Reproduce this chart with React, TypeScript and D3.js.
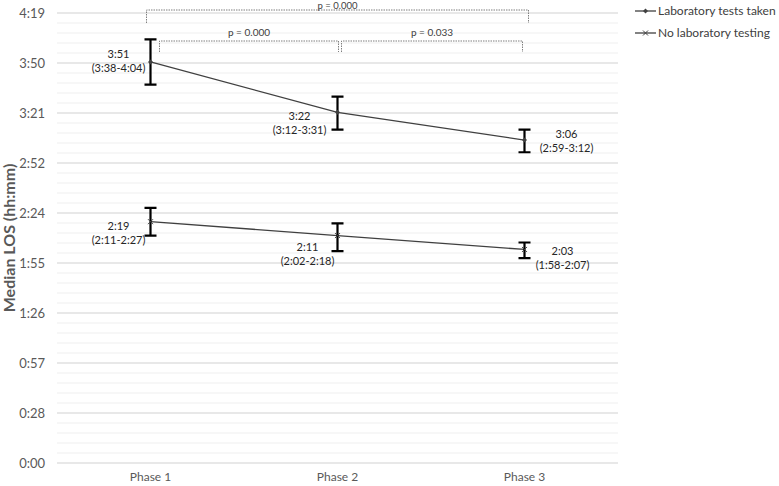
import * as d3 from 'd3';
import React from 'react';

// values in minutes
const phases = ['Phase 1', 'Phase 2', 'Phase 3'];
const labTaken = [231, 202, 186];
const labTakenLow = [218, 192, 179];
const labTakenHigh = [244, 211, 192];
const noLab = [139, 131, 123];
const noLabLow = [131, 122, 118];
const noLabHigh = [147, 138, 127];

// Excel day-fraction ticks
const yTickDays = [0, 0.02, 0.04, 0.06, 0.08, 0.1, 0.12, 0.14, 0.16, 0.18];
const yTickLabels = ['0:00', '0:28', '0:57', '1:26', '1:55', '2:24', '2:52', '3:21', '3:50', '4:19'];

const pTests = [
  { from: 0, to: 2, label: 'p = 0.000', level: 0 },
  { from: 0, to: 1, label: 'p = 0.000', level: 1 },
  { from: 1, to: 2, label: 'p = 0.033', level: 1 },
];

const W = 779;
const H = 486;
const M = { left: 57, right: 161, top: 13, bottom: 23 };
const FONT = 'Lato, "Noto Sans", sans-serif';

const fmt = (m: number) => `${Math.floor(m / 60)}:${String(Math.round(m % 60)).padStart(2, '0')}`;

export default function App() {
  const x = d3.scaleBand().domain(phases).range([M.left, W - M.right]);
  const y = d3.scaleLinear().domain([0, 0.18 * 1440]).range([H - M.bottom, M.top]);
  const cx = (i: number) => x(phases[i])! + x.bandwidth() / 2;

  const minor = d3.range(0, 0.18 * 1440 + 0.01, 0.004 * 1440);
  const line = d3.line<number>().x((_, i) => cx(i)).y(d => y(d));

  const series = [
    { name: 'Laboratory tests taken', vals: labTaken, lo: labTakenLow, hi: labTakenHigh, marker: 'diamond',
      offs: [[-32, -4], [-38, 8], [42, -2]] },
    { name: 'No laboratory testing', vals: noLab, lo: noLabLow, hi: noLabHigh, marker: 'x',
      offs: [[-32, 8], [-30, 15], [38, 6]] },
  ];

  const marker = (kind: string, px: number, py: number) =>
    kind === 'diamond' ? (
      <path d={`M${px},${py - 2.5}L${px + 2.5},${py}L${px},${py + 2.5}L${px - 2.5},${py}Z`} fill="#404040" />
    ) : (
      <path d={`M${px - 2.5},${py - 2.5}L${px + 2.5},${py + 2.5}M${px - 2.5},${py + 2.5}L${px + 2.5},${py - 2.5}`}
        stroke="#404040" strokeWidth={1} />
    );

  return (
    <svg width={W} height={H} style={{ position: 'absolute', left: 0, top: 0, background: '#fff' }} fontFamily={FONT}>
      {/* gridlines */}
      {minor.map((m, i) => (
        <line key={'mn' + i} x1={M.left} x2={W - M.right} y1={y(m)} y2={y(m)} stroke="#efefef" />
      ))}
      {yTickDays.map((d, i) => (
        <line key={'mj' + i} x1={M.left} x2={W - M.right} y1={y(d * 1440)} y2={y(d * 1440)} stroke="#d9d9d9" />
      ))}
      {yTickDays.map((d, i) => (
        <text key={'yl' + i} x={45} y={y(d * 1440)} dy="0.35em" textAnchor="end" fontSize={13} fill="#595959">
          {yTickLabels[i]}
        </text>
      ))}
      <text transform={`translate(15,${(M.top + H - M.bottom) / 2}) rotate(-90)`} textAnchor="middle"
        fontSize={16} fontWeight="bold" fill="#595959">Median LOS (hh:mm)</text>
      {phases.map((p, i) => (
        <text key={p} x={cx(i)} y={481} textAnchor="middle" fontSize={12} fill="#595959">{p}</text>
      ))}

      {/* p-value brackets */}
      {pTests.map((t, i) => {
        const yb = t.level === 0 ? 10 : 41;
        const drop = t.level === 0 ? 13 : 11;
        const x1 = t.level === 0 ? cx(t.from) - 4 : t.from === 1 ? cx(t.from) + 4 : cx(t.from) + 9;
        const x2 = t.level === 0 ? cx(t.to) + 4 : t.to === 1 ? cx(t.to) + 1 : cx(t.to) - 2;
        return (
          <g key={'pt' + i}>
            <path d={`M${x1},${yb + drop}V${yb}H${x2}V${yb + drop}`} fill="none" stroke="#7f7f7f"
              strokeWidth={1} strokeDasharray="1.5,1" />
            <text x={(x1 + x2) / 2} y={t.level === 0 ? 8.5 : yb - 5} textAnchor="middle"
              fontSize={t.level === 0 ? 9.5 : 10} fill="#404040">
              {t.label}
            </text>
          </g>
        );
      })}

      {series.map((s, si) => (
        <g key={s.name}>
          <path d={line(s.vals)!} fill="none" stroke="#404040" strokeWidth={1.3} />
          {s.vals.map((v, i) => (
            <g key={i}>
              <path d={`M${cx(i) - 6},${y(s.hi[i])}H${cx(i) + 6}M${cx(i)},${y(s.hi[i])}V${y(s.lo[i])}M${cx(i) - 6},${y(s.lo[i])}H${cx(i) + 6}`}
                stroke="#000" strokeWidth={2.2} fill="none" />
              {marker(s.marker, cx(i), y(v))}
              <text x={cx(i) + s.offs[i][0]} y={y(v) + s.offs[i][1]} textAnchor="middle" fontSize={11} fill="#262626">
                <tspan x={cx(i) + s.offs[i][0]}>{fmt(v)}</tspan>
                <tspan x={cx(i) + s.offs[i][0]} dy={14}>({fmt(s.lo[i])}-{fmt(s.hi[i])})</tspan>
              </text>
            </g>
          ))}
          {/* legend */}
          <line x1={635} x2={656} y1={11 + si * 22} y2={11 + si * 22} stroke="#404040" strokeWidth={1.3} />
          {marker(s.marker, 645.5, 11 + si * 22)}
          <text x={658} y={11 + si * 22} dy="0.35em" fontSize={12} fill="#404040">{s.name}</text>
        </g>
      ))}
    </svg>
  );
}
